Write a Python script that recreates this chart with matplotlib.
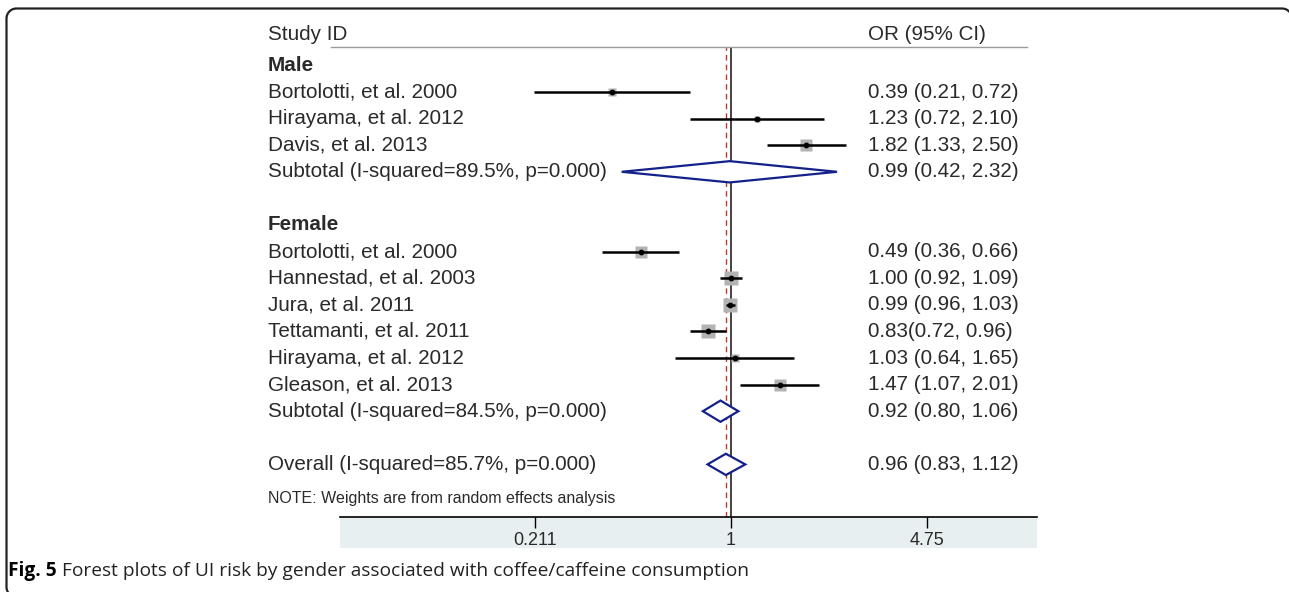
import numpy as np
import matplotlib
matplotlib.use("Agg")
import matplotlib.pyplot as plt
from matplotlib import transforms
from matplotlib.patches import Rectangle
from matplotlib.lines import Line2D

# ---- data ----
male_studies = ["Bortolotti, et al. 2000", "Hirayama, et al. 2012", "Davis, et al. 2013"]
male_or = [0.39, 1.23, 1.82]
male_lo = [0.21, 0.72, 1.33]
male_hi = [0.72, 2.10, 2.50]
male_wt = [8.5, 4.8, 16.0]
male_txt = ["0.39 (0.21, 0.72)", "1.23 (0.72, 2.10)", "1.82 (1.33, 2.50)"]
male_sub = [0.99, 0.42, 2.32]
male_sub_label = "Subtotal (I-squared=89.5%, p=0.000)"
male_sub_txt = "0.99 (0.42, 2.32)"

female_studies = ["Bortolotti, et al. 2000", "Hannestad, et al. 2003", "Jura, et al. 2011",
                  "Tettamanti, et al. 2011", "Hirayama, et al. 2012", "Gleason, et al. 2013"]
female_or = [0.49, 1.00, 0.99, 0.83, 1.03, 1.47]
female_lo = [0.36, 0.92, 0.96, 0.72, 0.64, 1.07]
female_hi = [0.66, 1.09, 1.03, 0.96, 1.65, 2.01]
female_wt = [16.0, 26.0, 26.0, 26.0, 8.5, 16.0]
female_txt = ["0.49 (0.36, 0.66)", "1.00 (0.92, 1.09)", "0.99 (0.96, 1.03)",
              "0.83(0.72, 0.96)", "1.03 (0.64, 1.65)", "1.47 (1.07, 2.01)"]
female_sub = [0.92, 0.80, 1.06]
female_sub_label = "Subtotal (I-squared=84.5%, p=0.000)"
female_sub_txt = "0.92 (0.80, 1.06)"

overall = [0.96, 0.83, 1.12]
overall_label = "Overall (I-squared=85.7%, p=0.000)"
overall_txt = "0.96 (0.83, 1.12)"

xticks = [0.211, 1, 4.75]
xticklabels = ["0.211", "1", "4.75"]

W, H = 1289, 592
ROW0, ROWH = 65.4, 26.6      # pixel y of row 0, row height
PX_PER_LN = 126.0            # pixels per log unit
X1_PX = 731                  # pixel x of OR = 1
AX_L, AX_R = 340, 1037
AX_T, AX_B = 47, 517
TXT_COL = "#2a2a2a"
FONT = "Liberation Sans"
FS = 14.9


def row_of(px):
    return (px - ROW0) / ROWH


fig = plt.figure(figsize=(W / 100, H / 100), dpi=100)
ax = fig.add_axes([AX_L / W, 1 - AX_B / H, (AX_R - AX_L) / W, (AX_B - AX_T) / H])
ax.set_xscale("log")
ax.set_xlim(np.exp((AX_L - X1_PX) / PX_PER_LN), np.exp((AX_R - X1_PX) / PX_PER_LN))
ax.set_ylim(row_of(AX_B), row_of(AX_T))
ax.patch.set_alpha(0)
for s in ["top", "left", "right"]:
    ax.spines[s].set_visible(False)
ax.spines["bottom"].set_linewidth(1.2)
ax.set_yticks([])
ax.set_xticks(xticks)
ax.set_xticklabels(xticklabels)
ax.xaxis.set_minor_locator(matplotlib.ticker.NullLocator())
ax.tick_params(axis="x", direction="out", length=8, width=1, pad=3,
               labelsize=13, labelcolor=TXT_COL)
for lab in ax.get_xticklabels():
    lab.set_family(FONT)

# shaded axis band
fig.add_artist(Rectangle((AX_L / W, 1 - 548 / H), (AX_R - AX_L) / W, (548 - AX_B) / H,
                         transform=fig.transFigure, facecolor="#e7eff1", edgecolor="none", zorder=0))
# header rule
fig.add_artist(Line2D([331 / W, 1027 / W], [1 - AX_T / H, 1 - AX_T / H],
                      transform=fig.transFigure, color="#9a9a9a", lw=1))

# reference lines
ax.axvline(1, color="#333333", lw=1.3, zorder=1)
ax.axvline(overall[0], color="#c0392b", lw=1, ls=(0, (4, 3)), zorder=1)

lab_tr = transforms.blended_transform_factory(fig.transFigure, ax.transData)
LAB_X = 268 / W
OR_X = 868 / W


def label(r, s, x=LAB_X, bold=False, size=FS):
    ax.text(x, r, s, transform=lab_tr, ha="left", va="center", fontsize=size,
            family=FONT, weight="bold" if bold else "normal", color=TXT_COL, clip_on=False)


def study(r, name, est, lo, hi, wt, txt):
    ax.plot([lo, hi], [r, r], color="black", lw=1.8, zorder=3, solid_capstyle="butt")
    side = 2.8 * np.sqrt(wt)
    ax.plot(est, r, marker="s", ms=side * 0.72, color="#b3b3b3", mec="none", zorder=2)
    ax.plot(est, r, marker="o", ms=3.2, color="black", zorder=4)
    label(r, name)
    label(r, txt, x=OR_X)


def diamond(r, est, lo, hi, name, txt):
    h = 0.4
    ax.fill([lo, est, hi, est, lo], [r, r - h, r, r + h, r], facecolor="white",
            edgecolor="#14218a", lw=1.6, zorder=3)
    label(r, name)
    label(r, txt, x=OR_X)


label(row_of(35), "Study ID")
label(row_of(35), "OR (95% CI)", x=OR_X)

label(0, "Male", bold=True)
for i in range(len(male_studies)):
    study(1 + i, male_studies[i], male_or[i], male_lo[i], male_hi[i], male_wt[i], male_txt[i])
diamond(4, male_sub[0], male_sub[1], male_sub[2], male_sub_label, male_sub_txt)

label(6, "Female", bold=True)
for i in range(len(female_studies)):
    study(7 + i, female_studies[i], female_or[i], female_lo[i], female_hi[i], female_wt[i], female_txt[i])
diamond(13, female_sub[0], female_sub[1], female_sub[2], female_sub_label, female_sub_txt)

diamond(15, overall[0], overall[1], overall[2], overall_label, overall_txt)
label(row_of(499), "NOTE: Weights are from random effects analysis", size=11.5)

# rounded page frame: the right and bottom edges lie outside the image
L, T, R, B, rad = 6.5, 8.5, 1292.0, 597.0, 10.0
a = np.linspace(0, np.pi / 2, 20)
fx = np.concatenate([L + rad - rad * np.sin(a),    # bottom-left corner, going up
                     L + rad - rad * np.cos(a),    # top-left corner
                     R - rad + rad * np.sin(a),    # top-right corner
                     [R]])
fy = np.concatenate([B - rad + rad * np.cos(a),
                     T + rad - rad * np.sin(a),
                     T + rad - rad * np.cos(a),
                     [B]])
fig.add_artist(Line2D(fx / W, 1 - fy / H, transform=fig.transFigure,
                      color="#222222", lw=1.6, solid_joinstyle="round"))

# caption
fig.canvas.draw()
cap = fig.text(8 / W, 1 - 571 / H, "Fig. 5", fontsize=13.8, weight="bold", family="Open Sans",
               va="center", ha="left", color="black")
bb = cap.get_window_extent(fig.canvas.get_renderer())
fig.text(bb.x1 / W + 5 / W, 1 - 571 / H,
         "Forest plots of UI risk by gender associated with coffee/caffeine consumption",
         fontsize=13.8, family="Open Sans", va="center", ha="left", color="#222222")

fig.savefig("out.png", dpi=100)
